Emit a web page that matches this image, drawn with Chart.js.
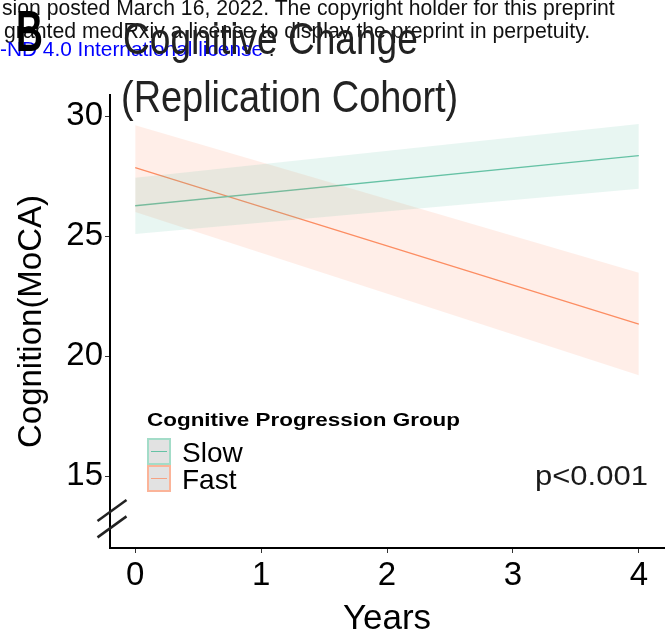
<!DOCTYPE html>
<html>
<head>
<meta charset="utf-8">
<script src="https://cdn.jsdelivr.net/npm/chart.js@4.4.0/dist/chart.umd.min.js"></script>
<style>
body{margin:0;background:#fff;overflow:hidden}
#wrap{position:relative;width:665px;height:634px;font-family:"Liberation Sans",Arial,sans-serif;overflow:hidden}
canvas{position:absolute;left:0;top:0}
.txt{position:absolute;white-space:nowrap;line-height:1;transform-origin:0 0}
.key{position:absolute;width:24px;height:27px;box-sizing:border-box;border:2px solid;background:#e2e2e2}
.key i{position:absolute;left:2px;right:2px;top:11px;height:1px}
</style>
</head>
<body>
<div id="wrap">
<canvas id="chart" width="665" height="634"></canvas>

<div class="txt fit" data-w="613" style="left:2px;top:-3px;font-size:22px;color:#111">sion posted March 16, 2022. The copyright holder for this preprint</div>
<div class="txt fit" data-w="586" style="left:4px;top:20px;font-size:22px;color:#111">granted medRxiv a license to display the preprint in perpetuity.</div>
<div class="txt fit" data-w="275" style="left:0px;top:38px;font-size:21px;color:#0000ff">-ND 4.0 International license<span style="color:#111"> .</span></div>
<div class="txt fit" data-w="27" style="left:16px;top:2px;font-size:58px;font-weight:bold;color:#000">B</div>
<div class="txt fit" data-w="295" style="left:123px;top:17px;font-size:44px;color:#222">Cognitive Change</div>
<div class="txt fit" data-w="337" style="left:121px;top:75px;font-size:44px;color:#222">(Replication Cohort)</div>

<div class="txt fit" data-w="313" style="left:147px;top:411px;font-size:18px;font-weight:bold;color:#000">Cognitive Progression Group</div>
<div class="key" style="left:147px;top:438px;border-color:#a3dcc8"><i style="background:#66c2a5"></i></div>
<div class="key" style="left:147px;top:465px;border-color:#fbb499"><i style="background:#f5a283"></i></div>
<div class="txt" style="left:182px;top:439px;font-size:28px;color:#000">Slow</div>
<div class="txt" style="left:182px;top:466px;font-size:28px;color:#000">Fast</div>
<div class="txt fit" data-w="113" style="left:535px;top:462px;font-size:28px;color:#1a1a1a">p&lt;0.001</div>
</div>

<script>
// model fits (years since baseline)
const years = [0, 4]
const slowFit = [26.26, 28.35]
const slowLow = [25.08, 26.97]
const slowHigh = [27.43, 29.67]
const fastFit = [27.85, 21.33]
const fastLow = [26.0, 19.2]
const fastHigh = [29.61, 23.47]
const xTicks = [0, 1, 2, 3, 4]
const yTicks = [15, 20, 25, 30]

const pts = (ys) => years.map((x, i) => ({x: x, y: ys[i]}))

Chart.defaults.font.family = '"Liberation Sans", Arial, sans-serif'

// the "//" axis break near the bottom of the y axis
const axisBreak = {
  id: 'axisBreak',
  afterDraw(chart) {
    const ctx = chart.ctx
    const x0 = chart.chartArea.left + 2
    ctx.save()
    ctx.strokeStyle = '#222'
    ctx.lineWidth = 2.5
    for (const v of [13.56, 12.88]) {
      const y = chart.scales.y.getPixelForValue(v)
      ctx.beginPath()
      ctx.moveTo(x0 - 14.5, y + 10.5)
      ctx.lineTo(x0 + 14.5, y - 10.5)
      ctx.stroke()
    }
    ctx.restore()
  }
}

const band = (ys, col, fill) => ({
  data: pts(ys), borderWidth: 0, borderColor: 'rgba(0,0,0,0)',
  pointRadius: 0, fill: fill, backgroundColor: col
})

new Chart('chart', {
  type: 'line',
  data: {
    datasets: [
      band(slowHigh, 'rgba(102,194,165,0.15)', '+1'),
      band(slowLow, 'rgba(0,0,0,0)', false),
      band(fastHigh, 'rgba(252,141,98,0.15)', '+1'),
      band(fastLow, 'rgba(0,0,0,0)', false),
      {label: 'Slow', data: pts(slowFit), borderColor: '#66c2a5', borderWidth: 1.3, pointRadius: 0, fill: false},
      {label: 'Fast', data: pts(fastFit), borderColor: '#fc8d62', borderWidth: 1.3, pointRadius: 0, fill: false}
    ]
  },
  options: {
    responsive: false,
    animation: false,
    layout: {padding: {top: 95, right: 1, left: 0, bottom: 0}},
    plugins: {legend: {display: false}, tooltip: {enabled: false}},
    scales: {
      x: {
        type: 'linear', min: -0.2, max: 4.2,
        afterBuildTicks: (s) => { s.ticks = xTicks.map(v => ({value: v})) },
        afterFit: (s) => { s.height = 86 },
        grid: {drawOnChartArea: false, tickLength: 5, tickColor: '#333'},
        border: {color: '#000', width: 2},
        ticks: {color: '#000', font: {size: 33}, padding: 3},
        title: {display: true, text: 'Years', color: '#000', font: {size: 35, lineHeight: 0.85}, padding: 0}
      },
      y: {
        min: 12, max: 30.875,
        afterBuildTicks: (s) => { s.ticks = yTicks.map(v => ({value: v})) },
        afterFit: (s) => { s.width = 110 },
        grid: {drawOnChartArea: false, tickLength: 5, tickColor: '#333'},
        border: {color: '#000', width: 2},
        ticks: {color: '#000', font: {size: 33}, padding: 2},
        title: {display: true, text: 'Cognition(MoCA)', color: '#000', font: {size: 33}, padding: {top: 12, bottom: 0}}
      }
    }
  },
  plugins: [axisBreak]
})

document.querySelectorAll('.fit').forEach(el => {
  const w = +el.dataset.w
  el.style.transform = 'scaleX(' + (w / el.offsetWidth) + ')'
})
</script>
</body>
</html>
